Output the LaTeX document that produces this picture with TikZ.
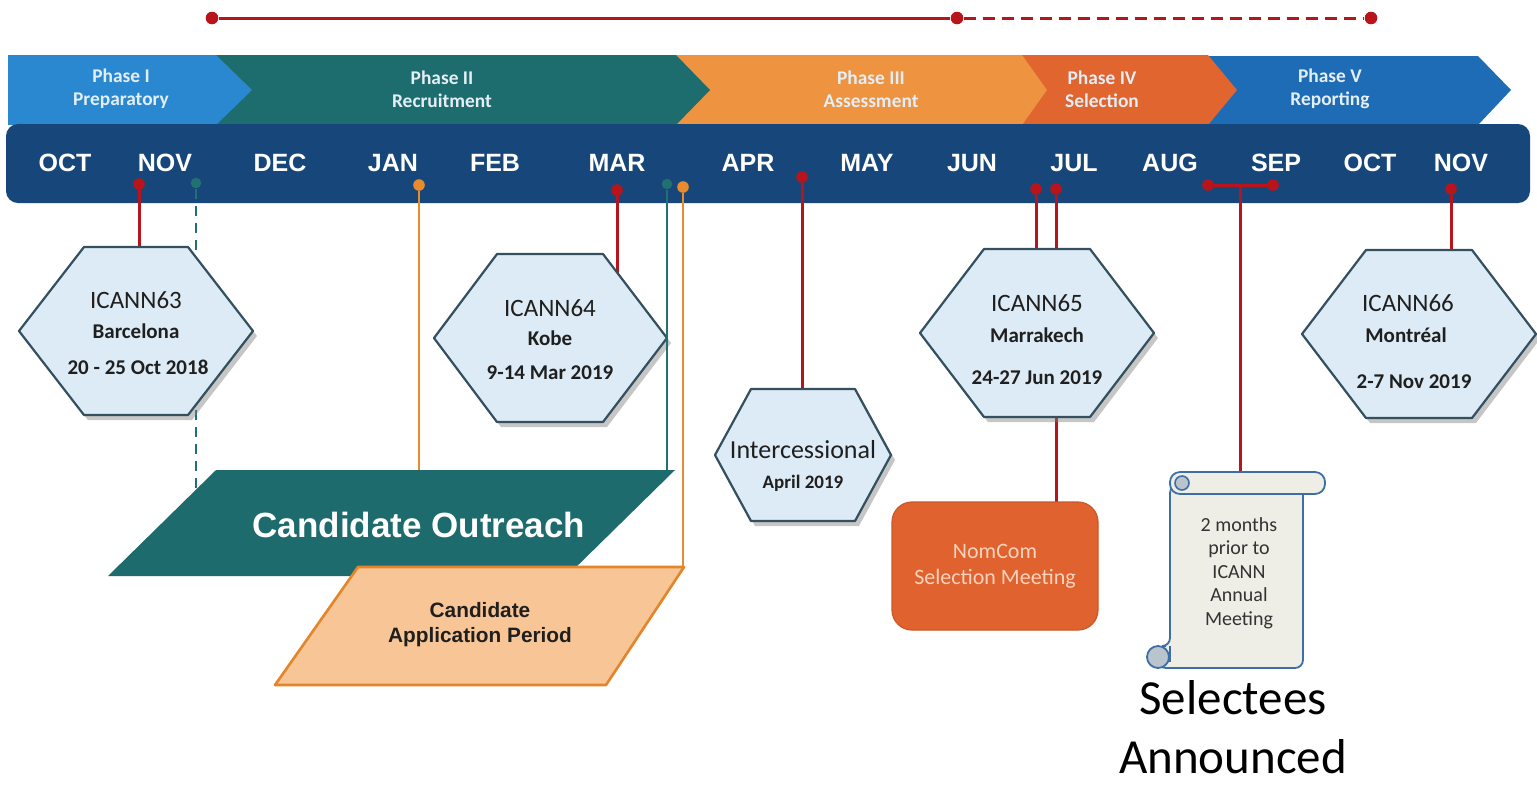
\documentclass[tikz,border=0pt]{standalone}
\usepackage{fontspec}
\setmainfont{Carlito}
\newfontfamily\arialf{Liberation Sans}
\usetikzlibrary{shadows}
\definecolor{phI}{HTML}{2A88D0}
\definecolor{phII}{HTML}{1E6D6E}
\definecolor{phIII}{HTML}{EE9340}
\definecolor{phIV}{HTML}{E0652F}
\definecolor{phV}{HTML}{1D6CB5}
\definecolor{navy}{HTML}{17477A}
\definecolor{phtext}{HTML}{E4EEF6}
\definecolor{hexfill}{HTML}{DCEBF5}
\definecolor{hexdraw}{HTML}{34505E}
\definecolor{cred}{HTML}{B8141C}
\definecolor{cteal}{HTML}{22706F}
\definecolor{corange}{HTML}{E88A2E}
\definecolor{outreach}{HTML}{1D6B6C}
\definecolor{appfill}{HTML}{F8C596}
\definecolor{appdraw}{HTML}{E3852A}
\definecolor{nomcom}{HTML}{E0622E}
\definecolor{nomtext}{HTML}{F9D3BD}
\definecolor{scrollfill}{HTML}{EEEDE6}
\definecolor{scrolldraw}{HTML}{3E6EA6}
\definecolor{curlfill}{HTML}{B9C4CD}
\begin{document}
\begin{tikzpicture}[x=0.5pt,y=-0.5pt,
  month/.style={text=white,inner sep=0pt,font=\arialf\bfseries\fontsize{12.5}{14}\selectfont},
  phaselbl/.style={text=phtext,align=center,inner sep=0pt,font=\bfseries\fontsize{9.7}{11.5}\selectfont},
  hexsty/.style={fill=hexfill,draw=hexdraw,line width=1.1pt,line join=round,
     drop shadow={shadow xshift=2pt,shadow yshift=-2.5pt,opacity=0.45}},
  hexname/.style={inner sep=0pt,text=black!88,font=\fontsize{12.5}{14}\selectfont},
  hexsub/.style={inner sep=0pt,text=black!88,font=\bfseries\fontsize{10.5}{12}\selectfont},
  tdot/.style={circle,fill=#1,inner sep=0pt,minimum size=5.8pt},
  tline/.style={draw=#1,line width=1.5pt},
]
\useasboundingbox (0,0) rectangle (1537,784);

% ---------- top range line ----------
\node[tdot=cred,minimum size=6.3pt] (t1) at (212,18) {};
\node[tdot=cred,minimum size=6.3pt] (t2) at (957,18) {};
\node[tdot=cred,minimum size=6.3pt] (t3) at (1371,18) {};
\draw[tline=cred,line width=1.5pt] (t1) -- (t2);
\draw[tline=cred,line width=1.5pt,dash pattern=on 6pt off 3.5pt] (t2) -- (t3);

% ---------- phase chevrons ----------
\fill[phV]   (1208,56) -- (1478,56) -- (1511,90) -- (1478,125) -- (1208,125) -- cycle;
\fill[phIV]  (1022,55) -- (1208,55) -- (1237,90) -- (1208,125) -- (1022,125) -- cycle;
\fill[phIII] (676,55) -- (1022,55) -- (1047,90) -- (1022,125) -- (676,125) -- cycle;
\fill[phII]  (216,55) -- (676,55) -- (710,90) -- (676,125) -- (216,125) -- cycle;
\fill[phI]   (8,55) -- (216,55) -- (252,90) -- (216,125) -- (8,125) -- cycle;

\node[phaselbl] (ph1) at (121,89) {Phase I\\Preparatory};
\node[phaselbl] (ph2) at (442,89) {Phase II\\Recruitment};
\node[phaselbl] (ph3) at (871,89) {Phase III\\Assessment};
\node[phaselbl] (ph4) at (1102,89) {Phase IV\\Selection};
\node[phaselbl] (ph5) at (1330,89) {Phase V\\Reporting};

% ---------- month bar ----------
\fill[navy,rounded corners=6pt] (6,124) rectangle (1530,203);
\node[month] (m1) at (65,163) {OCT};
\node[month] (m2) at (165,163) {NOV};
\node[month] (m3) at (280,163) {DEC};
\node[month] (m4) at (393,163) {JAN};
\node[month] (m5) at (495,163) {FEB};
\node[month] (m6) at (617,163) {MAR};
\node[month] (m7) at (748,163) {APR};
\node[month] (m8) at (867,163) {MAY};
\node[month] (m9) at (972,163) {JUN};
\node[month] (m10) at (1074,163) {JUL};
\node[month] (m11) at (1170,163) {AUG};
\node[month] (m12) at (1276,163) {SEP};
\node[month] (m13) at (1370,163) {OCT};
\node[month] (m14) at (1461,163) {NOV};

% ---------- pin dots ----------
\node[tdot=cred] (p1) at (139,184) {};
\node[tdot=cteal,minimum size=5.3pt] (p2) at (196,183) {};
\node[tdot=corange] (p3) at (419,185) {};
\node[tdot=cred] (p4) at (617,190) {};
\node[tdot=cteal,minimum size=5.3pt] (p5) at (667,184) {};
\node[tdot=corange] (p6) at (683,187) {};
\node[tdot=cred] (p7) at (802,177) {};
\node[tdot=cred] (p8) at (1036,189) {};
\node[tdot=cred] (p9) at (1056,189) {};
\node[tdot=cred] (p10a) at (1208,185) {};
\node[tdot=cred] (p10b) at (1273,185) {};
\coordinate (p10m) at (1240,185);
\node[tdot=cred] (p11) at (1451,189) {};

% ---------- end points of connectors ----------
\coordinate (h63top) at (139,247);
\coordinate (outdash) at (196,490);
\coordinate (outjan) at (419,470);
\coordinate (h64in) at (617,300);
\coordinate (outmar) at (667,470);
\coordinate (appmar) at (683,567);
\coordinate (intop) at (802,389);
\coordinate (h65top) at (1036,249);
\coordinate (nomtop) at (1056,502);
\coordinate (scrolltop) at (1240,472);
\coordinate (h66top) at (1451,250);

% connectors drawn below the shapes
\draw[tline=cteal,line width=1.3pt,dash pattern=on 5pt off 3.5pt] (p2) -- (outdash);
\draw[tline=cred] (p1) -- (h63top);
\draw[tline=corange,line width=1.3pt] (p3) -- (outjan);
\draw[tline=cred] (p4) -- (h64in);
\draw[tline=corange,line width=1.3pt] (p6) -- (appmar);
\draw[tline=cred] (p7) -- (intop);
\draw[tline=cred] (p8) -- (h65top);
\draw[tline=cred] (p9) -- (nomtop);
\draw[tline=cred] (p10a) -- (p10b);
\draw[tline=cred] (p10m) -- (scrolltop);
\draw[tline=cred] (p11) -- (h66top);

% ---------- hexagons ----------
\path[hexsty] (19,331) -- (84,247) -- (188,247) -- (253,331) -- (188,415) -- (84,415) -- cycle;
\node[hexname] (h63a) at (136,300) {ICANN63};
\node[hexsub]  (h63b) at (136,331) {Barcelona};
\node[hexsub]  (h63c) at (138,367) {20 - 25 Oct 2018};

\path[hexsty] (434,338) -- (497,254) -- (603,254) -- (667,338) -- (603,422) -- (497,422) -- cycle;
\node[hexname] (h64a) at (550,308) {ICANN64};
\node[hexsub]  (h64b) at (550,338) {Kobe};
\node[hexsub]  (h64c) at (550,373) {9-14 Mar 2019};

\path[hexsty] (715,455) -- (751,389) -- (855,389) -- (891,455) -- (855,521) -- (751,521) -- cycle;
\node[inner sep=0pt,text=black!88,font=\fontsize{13}{15}\selectfont] (ina) at (803,450) {Intercessional};
\node[inner sep=0pt,text=black!88,font=\bfseries\fontsize{9.5}{11}\selectfont] (inb) at (803,483) {April 2019};

\path[hexsty] (920,333) -- (984,249) -- (1090,249) -- (1154,333) -- (1090,417) -- (984,417) -- cycle;
\node[hexname] (h65a) at (1037,303) {ICANN65};
\node[hexsub]  (h65b) at (1037,335) {Marrakech};
\node[hexsub]  (h65c) at (1037,378) {24-27 Jun 2019};

\path[hexsty] (1302,334) -- (1366,250) -- (1472,250) -- (1536,334) -- (1472,418) -- (1366,418) -- cycle;
\node[hexname] (h66a) at (1408,303) {ICANN66};
\node[hexsub]  (h66b) at (1406,335) {Montréal};
\node[hexsub]  (h66c) at (1414,382) {2-7 Nov 2019};

% teal connector passing over the ICANN64 tip
\draw[tline=cteal,line width=1.3pt] (p5) -- (outmar);

% ---------- candidate outreach / application period ----------
\fill[outreach] (216,470) -- (675,470) -- (567,576) -- (108,576) -- cycle;
\node[inner sep=0pt,text=white,font=\arialf\bfseries\fontsize{17.5}{20}\selectfont] (outr) at (419,525) {Candidate Outreach};

\filldraw[fill=appfill,draw=appdraw,line width=1.3pt,line join=round] (358,567) -- (684,567) -- (606,685) -- (275,685) -- cycle;
\node[inner sep=0pt,align=center,text=black!88,font=\arialf\bfseries\fontsize{10.4}{12.5}\selectfont] (app) at (480,625) {Candidate\\Application Period};

% ---------- NomCom ----------
\node[fill=nomcom,draw=nomcom!90!black,line width=0.6pt,rounded corners=10pt,minimum width=103pt,minimum height=64pt,
      align=center,text=nomtext,font=\fontsize{11}{13}\selectfont] (nom) at (995,566) {NomCom\\Selection Meeting};

% ---------- scroll ----------
\filldraw[fill=scrollfill,draw=scrolldraw,line width=0.9pt,rounded corners=4pt]
   (1170,485) -- (1303,485) -- (1303,668) -- (1158,668) -- (1158,646) -- (1170,646) -- cycle;
\filldraw[fill=scrollfill,draw=scrolldraw,line width=0.9pt,rounded corners=5pt] (1170,472) rectangle (1325,494);
\filldraw[fill=curlfill,draw=scrolldraw,line width=0.8pt] (1182,483) circle (7);
\filldraw[fill=curlfill,draw=scrolldraw,line width=0.9pt] (1158,657) circle (11);
\draw[scrolldraw,line width=0.8pt] (1170,646) -- (1170,662);
\node[inner sep=0pt,align=center,text=black!80,font=\fontsize{10}{11.75}\selectfont] (scrolltxt) at (1239,573)
   {2 months\\prior to\\ICANN\\Annual\\Meeting};

% ---------- selectees ----------
\node[inner sep=0pt,font=\fontsize{24.5}{30}\selectfont] (sel1) at (1233,698) {Selectees};
\node[inner sep=0pt,font=\fontsize{24.5}{30}\selectfont] (sel2) at (1233,757) {Announced};
\end{tikzpicture}
\end{document}
